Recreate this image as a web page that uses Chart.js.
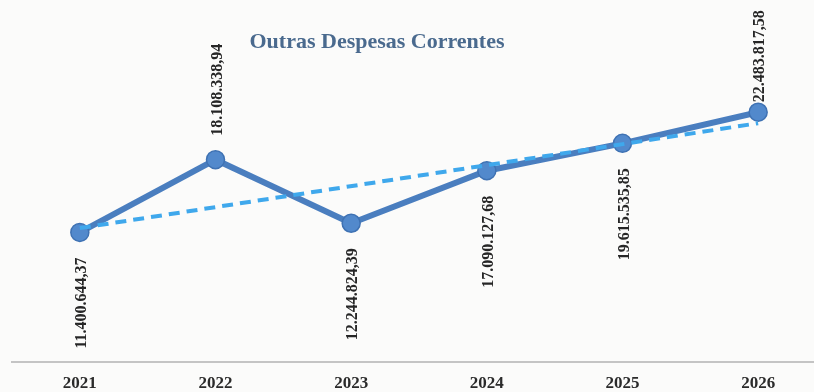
<!DOCTYPE html>
<html>
<head>
<meta charset="utf-8">
<script src="https://cdn.jsdelivr.net/npm/chart.js@4.4.1/dist/chart.umd.min.js"></script>
<style>
  html, body { margin: 0; padding: 0; overflow: hidden; background: #fbfbfa; }
  #wrap { width: 814px; height: 392px; overflow: hidden; }
  canvas { display: block; }
</style>
</head>
<body>
<div id="wrap"><canvas id="grafico" width="826" height="406"></canvas></div>
<script>
var anos = ['2021', '2022', '2023', '2024', '2025', '2026'];
var valores = [11400644.37, 18108338.94, 12244824.39, 17090127.68, 19615535.85, 22483817.58];
// tendencia: so os dois extremos
var tendencia = [11800000, null, null, null, null, 21470000];
var titulo = 'Outras Despesas Correntes';

function formatBR(v) {
    var partes = v.toFixed(2).split('.');
    var inteiro = partes[0].replace(/\B(?=(\d{3})+(?!\d))/g, '.');
    return inteiro + ',' + partes[1];
}

var posLabel = ['below', 'above', 'below', 'below', 'below', 'above'];
var distLabel = [25, 24, 25, 25, 25, 10];

var rotulos = {
    id: 'rotulos',
    afterDatasetsDraw: function(chart) {
        var ctx = chart.ctx;
        var meta = chart.getDatasetMeta(1);
        ctx.save();
        ctx.font = 'bold 16px "Liberation Serif", "Times New Roman", serif';
        ctx.fillStyle = '#262626';
        ctx.textBaseline = 'middle';
        meta.data.forEach(function(pt, i) {
            ctx.save();
            ctx.translate(pt.x + 2, pt.y);
            ctx.rotate(-Math.PI / 2);
            if (posLabel[i] == 'above') {
                ctx.textAlign = 'left';
                ctx.fillText(formatBR(valores[i]), distLabel[i], 0);
            } else {
                ctx.textAlign = 'right';
                ctx.fillText(formatBR(valores[i]), -distLabel[i], 0);
            }
            ctx.restore();
        });
        // titulo
        ctx.font = 'bold 22px "Liberation Serif", "Times New Roman", serif';
        ctx.fillStyle = '#4a6a8e';
        ctx.textAlign = 'center';
        ctx.fillText(titulo, 377, 42);
        ctx.restore();
    }
};

var canvas = document.getElementById('grafico');
var chart = new Chart(canvas, {
    type: 'line',
    data: {
        labels: anos,
        datasets: [
            {
                label: 'Tendência',
                data: tendencia,
                spanGaps: true,
                borderColor: '#3fa8ec',
                borderWidth: 4,
                borderDash: [11, 7],
                pointRadius: 0,
                fill: false
            },
            {
                label: titulo,
                data: valores,
                borderColor: '#4a7ebf',
                borderWidth: 6,
                pointRadius: 9,
                pointBackgroundColor: '#5289cc',
                pointBorderColor: '#3f72b3',
                pointBorderWidth: 1.5,
                tension: 0,
                fill: false
            }
        ]
    },
    options: {
        responsive: false,
        animation: false,
        layout: { autoPadding: false, padding: { left: 12, right: 0, top: 0, bottom: 0 } },
        plugins: {
            legend: { display: false },
            tooltip: { enabled: false },
            title: { display: false }
        },
        scales: {
            x: {
                offset: true,
                grid: { display: false, drawTicks: false },
                border: { display: true, color: '#c4c4c4', width: 2 },
                ticks: {
                    padding: 12,
                    color: '#2b2b2b',
                    font: { family: '"Liberation Serif", "Times New Roman", serif', size: 17, weight: 'bold' }
                }
            },
            y: {
                display: false,
                min: -510000,
                max: 32830000
            }
        }
    },
    plugins: [rotulos]
});
</script>
</body>
</html>
